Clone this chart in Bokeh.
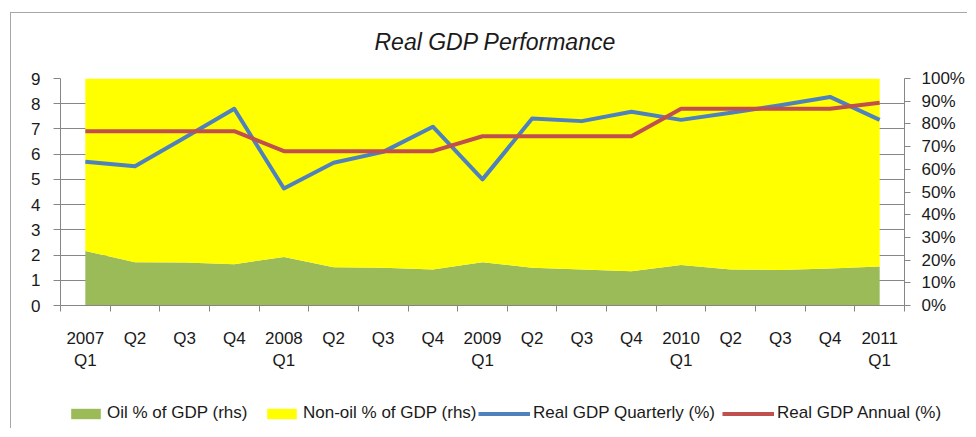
from bokeh.plotting import figure
from bokeh.models import (Range1d, LinearAxis, FixedTicker, Legend, LegendItem,
                          ColumnDataSource, PrintfTickFormatter, Label)
from bokeh.embed import file_html
from bokeh.resources import INLINE

title_text = "Real GDP Performance"
quarters = ["2007\nQ1", "Q2", "Q3", "Q4", "2008\nQ1", "Q2", "Q3", "Q4",
            "2009\nQ1", "Q2", "Q3", "Q4", "2010\nQ1", "Q2", "Q3", "Q4", "2011\nQ1"]
oil_share = [24.0, 19.1, 18.9, 18.2, 21.4, 16.9, 16.6, 15.9, 19.1,
             16.6, 15.9, 15.1, 17.8, 15.9, 15.6, 16.3, 17.2]
nonoil_share = [76.0, 80.9, 81.1, 81.8, 78.6, 83.1, 83.4, 84.1, 80.9,
                83.4, 84.1, 84.9, 82.2, 84.1, 84.4, 83.7, 82.8]
gdp_quarterly = [5.70, 5.52, 6.65, 7.80, 4.64, 5.66, 6.09, 7.09, 5.00,
                 7.41, 7.31, 7.68, 7.36, 7.64, 7.94, 8.27, 7.36]
gdp_annual = [6.91, 6.91, 6.91, 6.91, 6.12, 6.12, 6.12, 6.12, 6.71,
              6.71, 6.71, 6.71, 7.80, 7.80, 7.80, 7.80, 8.04]
legend_labels = ["Oil % of GDP (rhs)", "Non-oil % of GDP (rhs)",
                 "Real GDP Quarterly (%)", "Real GDP Annual (%)"]

FONT = "Liberation Sans"
GRAY = "#868686"
BORDER = "1px solid #a6a6a6"
TXT = "#1a1a1a"
GREEN, YELLOW, BLUE, RED = "#9BBB59", "#FFFF00", "#4F81BD", "#C0504D"
W = 957


def strip(height):
    f = figure(width=W, height=height, output_backend="svg", toolbar_location=None,
               x_range=Range1d(0, W), y_range=Range1d(0, height),
               x_axis_location=None, y_axis_location=None,
               min_border=0, min_border_left=0, min_border_right=0,
               min_border_top=0, min_border_bottom=0)
    f.outline_line_color = None
    f.xgrid.visible = False
    f.ygrid.visible = False
    f.border_fill_color = "white"
    f.background_fill_color = "white"
    return f


# ---- title strip ----
TH = 50
tf = strip(TH)
tf.styles = {"margin-left": "10px", "margin-top": "12px",
             "border-left": BORDER, "border-top": BORDER}
tf.add_layout(Label(x=363, y=22, text=title_text, text_font=FONT,
                    text_font_style="italic", text_font_size="23px",
                    text_color=TXT, text_baseline="alphabetic", text_align="left"))

# ---- main chart ----
xs = list(range(len(quarters)))
src = ColumnDataSource(dict(
    x=xs,
    oil=oil_share,
    top=[o + n for o, n in zip(oil_share, nonoil_share)],
    q=gdp_quarterly,
    a=gdp_annual,
))

H = 325
p = figure(width=W, height=H, output_backend="svg", toolbar_location=None,
           x_range=Range1d(-0.5, len(quarters) - 0.5), y_range=Range1d(0, 9),
           min_border_left=49, min_border_right=W - 893,
           min_border_top=16, min_border_bottom=82)
p.styles = {"margin-left": "10px", "border-left": BORDER}
p.outline_line_color = None
p.background_fill_color = "white"
p.border_fill_color = "white"

p.extra_y_ranges = {"pct": Range1d(0, 100)}

# grid
p.xgrid.visible = False
p.ygrid.grid_line_color = GRAY
p.ygrid.ticker = FixedTicker(ticks=list(range(10)))

# areas (right-hand % axis)
p.varea(x="x", y1=0, y2="oil", source=src, fill_color=GREEN, y_range_name="pct")
p.varea(x="x", y1="oil", y2="top", source=src, fill_color=YELLOW, y_range_name="pct")
# lines (left axis)
p.line(x="x", y="q", source=src, line_color=BLUE, line_width=4, line_join="round")
p.line(x="x", y="a", source=src, line_color=RED, line_width=4, line_join="round")

# x axis
xa = p.xaxis[0]
xa.ticker = FixedTicker(ticks=xs, minor_ticks=[i - 0.5 for i in range(len(quarters) + 1)])
xa.major_label_overrides = {i: s for i, s in enumerate(quarters)}
xa.major_tick_out = 0
xa.major_tick_in = 0
xa.minor_tick_out = 6
xa.minor_tick_in = 0
xa.minor_tick_line_color = GRAY
xa.axis_line_color = GRAY
xa.major_label_standoff = 17
xa.major_label_text_font = FONT
xa.major_label_text_font_size = "17px"
xa.major_label_text_color = TXT

# left axis
ya = p.yaxis[0]
ya.ticker = FixedTicker(ticks=list(range(10)))
ya.major_tick_out = 7
ya.major_tick_in = 0
ya.minor_tick_line_color = None
ya.major_tick_line_color = GRAY
ya.axis_line_color = GRAY
ya.major_label_standoff = 13
ya.major_label_text_font = FONT
ya.major_label_text_font_size = "17px"
ya.major_label_text_color = TXT

# right axis
ra = LinearAxis(y_range_name="pct", ticker=FixedTicker(ticks=list(range(0, 101, 10))),
                formatter=PrintfTickFormatter(format="%d%%"))
ra.major_tick_out = 6
ra.major_tick_in = 0
ra.minor_tick_line_color = None
ra.major_tick_line_color = GRAY
ra.axis_line_color = GRAY
ra.major_label_standoff = 11
ra.major_label_text_font = FONT
ra.major_label_text_font_size = "17px"
ra.major_label_text_color = TXT
p.add_layout(ra, "right")

# ---- legend strip ----
LH = 41
lf = strip(LH)
lf.x_range = Range1d(0, 1)
lf.y_range = Range1d(0, 1)
lf.styles = {"margin-left": "10px", "border-left": BORDER}

# off-screen swatch renderers carrying the legend styles
sw = ColumnDataSource(dict(x=[-10, -9], y1=[-10, -10], y2=[-9, -9], y=[-10, -9]))
lr_oil = lf.varea(x="x", y1="y1", y2="y2", source=sw, fill_color=GREEN)
lr_non = lf.varea(x="x", y1="y1", y2="y2", source=sw, fill_color=YELLOW)
lr_q = lf.line(x="x", y="y", source=sw, line_color=BLUE, line_width=4)
lr_a = lf.line(x="x", y="y", source=sw, line_color=RED, line_width=4)


def add_leg(label, r, x, gw):
    leg = Legend(items=[LegendItem(label=label, renderers=[r])],
                 location=(x, 5), orientation="horizontal",
                 glyph_width=gw, glyph_height=13, label_standoff=3,
                 padding=0, margin=0, spacing=0,
                 border_line_color=None, background_fill_alpha=0,
                 label_text_font=FONT, label_text_font_size="17px",
                 label_text_color=TXT)
    lf.add_layout(leg, "center")


add_leg(legend_labels[0], lr_oil, 56, 37)
add_leg(legend_labels[1], lr_non, 252, 37)
add_leg(legend_labels[2], lr_q, 467, 52)
add_leg(legend_labels[3], lr_a, 711, 52)

open("out.html", "w").write(file_html([tf, p, lf], INLINE))
